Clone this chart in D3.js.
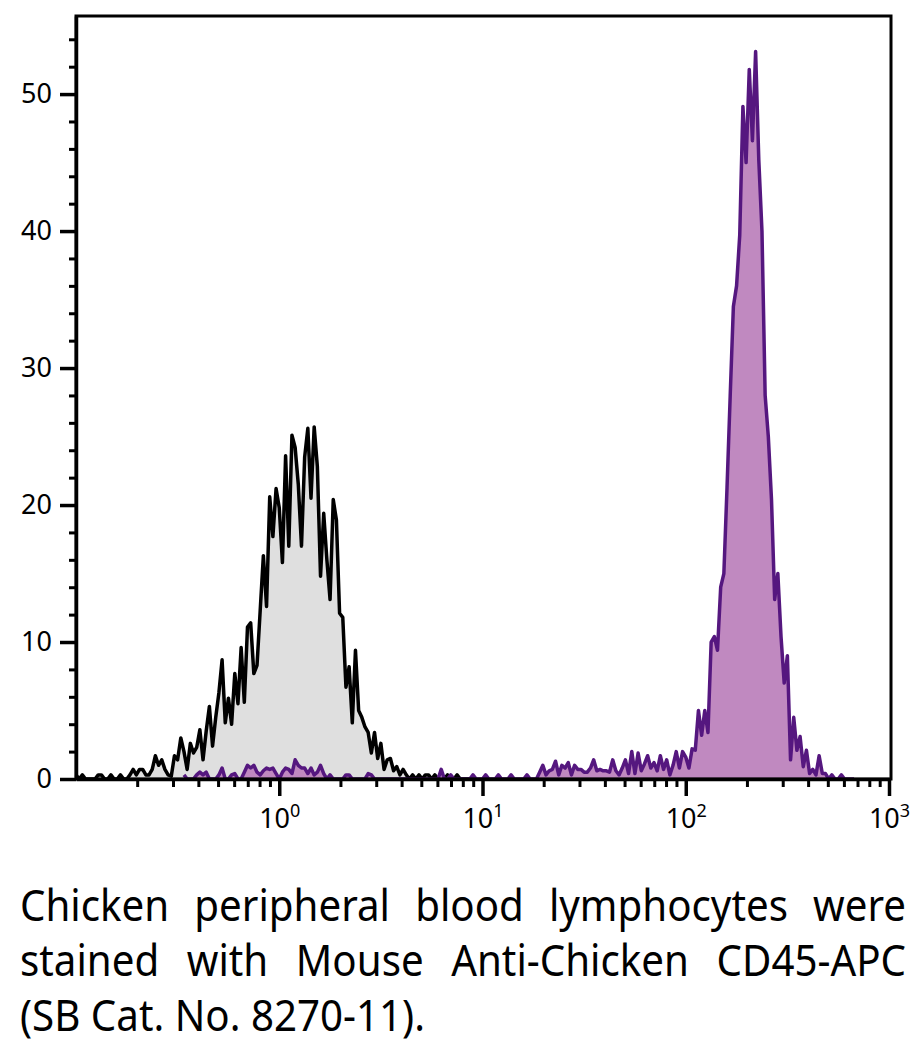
<!DOCTYPE html>
<html lang="en">
<head>
    <meta charset="UTF-8">
    <title>CD45-APC histogram</title>
    <script src="https://d3js.org/d3.v7.min.js"></script>
    <style>
        body {margin: 0; background: white;}
        svg {display: block;}
        .axis path, .axis line {stroke: black;}
        .axis path {stroke-width: 3.5;}
        .major line {stroke-width: 3.5;}
        .minor line {stroke-width: 3;}
        .frame {fill: none; stroke: black; stroke-width: 3;}
        .tick-label {font-family: "Noto Sans", sans-serif; font-size: 27px; fill: black;}
        .caption {font-family: "Noto Sans", sans-serif; font-size: 43px; fill: black;}
    </style>
</head>
<body>
<script>
    const width = 918;
    const height = 1045;

    // histogram channels: 64 per decade, channel 0 = 10^-1
    const channelsPerDecade = 64;
    const firstDecade = -1;

    // unstained control (black outline, grey fill), from channel 0
    const controlStart = 0;
    const controlCounts = [
        0.3,0,0.3,0,0,0,0,0.3,0.3,0,
        0,0.3,0,0,0.3,0,0,0.3,0.7,0.3,
        0.7,0.7,0.3,0.3,0.7,1.7,1.0,1.4,0.7,0.3,
        0.2,1.7,1.4,3.0,2.0,0.7,2.6,1.9,2.3,3.6,
        1.4,3.5,5.3,2.4,4.5,6.3,8.7,4.1,5.9,4.0,
        7.7,5.5,9.6,5.6,11.1,11.4,7.7,8.3,12.3,16.3,
        12.6,20.6,17.7,21.2,19.8,15.8,23.6,17.0,25.1,24.2,
        21.5,17.0,23.5,25.6,20.5,25.7,22.8,14.8,19.4,16.0,
        13.1,20.4,18.9,12.1,11.8,6.7,8.2,4.1,9.4,5.0,
        4.5,3.8,3.4,1.9,3.4,1.5,2.6,0.7,1.4,1.5,
        0.6,0.9,0.3,0.7,0.3,0,0.3,0,0.3,0,
        0.3,0.3,0,0.3,0,0.3,0,0.3,0,0,
        0.3,0,0,0,0,0
    ];

    // CD45-APC stained cells (purple), from channel 34
    const stainedStart = 34;
    const stainedCounts = [
        0.3,0,0,0,0.3,0.5,0.3,0.5,0,0,
        0,0.3,0.8,0,0,0.3,0.4,0,0,0.5,
        1.0,0.8,1.0,0.5,0.3,0.6,0.8,0.7,0.8,0.4,
        0,0.5,0.8,0.7,0.4,1.4,1.0,0.8,0.8,0.4,
        0.8,0.3,0.5,1.0,0.4,0,0.3,0,0,0,
        0,0.3,0.3,0,0,0,0,0,0.4,0.3,
        0,0,0,0,0,0,0,0,0,0,
        0,0,0,0,0,0,0,0,0,0,
        0,0.7,0,0,0.3,0,0,0,0,0,
        0,0.3,0,0,0,0.3,0,0,0,0.3,
        0,0,0,0.3,0,0,0,0,0.3,0,
        0,0,0.5,1.0,0.3,0.6,0.7,1.3,0.3,1.0,
        0.8,1.2,0.3,1.0,0.7,0.7,0.5,0.5,0.8,1.4,
        0.6,0.7,0.6,0.6,0.5,1.4,0.6,0.3,0.8,1.4,
        0.4,2.0,0.4,1.9,0.6,1.1,1.7,0.8,1.2,0.6,
        1.7,0.7,1.4,0.3,1.0,2.0,0.8,2.0,1.6,0.8,
        2.2,2.1,5.0,3.2,5.0,3.4,10.0,10.4,9.4,14.0,
        15.0,21.3,28.0,34.5,36.0,39.7,49.1,45.0,51.8,46.6,
        53.1,45.2,40.0,28.0,25.0,20.4,13.1,15.0,10.4,7.0,
        9.0,1.4,4.5,2.1,3.1,0.9,2.1,0.4,0.7,0.3,
        1.7,0.4,0.4,0,0.3,0,0,0.3,0,0,
        0,0
    ];

    const yMajor = [0, 10, 20, 30, 40, 50];
    const yMinor = [2,4,6,8,12,14,16,18,22,24,26,28,32,34,36,38,42,44,46,48,52,54];
    const xDecades = [0, 1, 2, 3];
    const xMinorMultipliers = [2, 3, 4, 5, 6, 7, 8, 9];

    const captionLines = [
        "Chicken peripheral blood lymphocytes were",
        "stained with Mouse Anti-Chicken CD45-APC",
        "(SB Cat. No. 8270-11)."
    ];

    const margin = {left: 76, right: 889, top: 16, bottom: 779};

    const x = d3.scaleLog().domain([0.1, 1000]).range([margin.left, margin.right]);
    const y = d3.scaleLinear().domain([0, 55.7]).range([margin.bottom, margin.top]);

    const svg = d3.select("body").append("svg")
            .attr("width", width).attr("height", height);

    function toPoints(start, counts) {
        return counts.map((c, i) => ({
            v: Math.pow(10, firstDecade + (start + i) / channelsPerDecade),
            c: c
        }));
    }

    const control = toPoints(controlStart, controlCounts);
    const stained = toPoints(stainedStart, stainedCounts);

    const area = d3.area().x(d => x(d.v)).y0(y(0)).y1(d => y(d.c));
    const line = d3.line().x(d => x(d.v)).y(d => y(d.c));

    // control histogram
    svg.append("path").datum(control)
            .attr("fill", "#dfdfdf")
            .attr("d", area);
    svg.append("path").datum(control)
            .attr("fill", "none").attr("stroke", "black")
            .attr("stroke-width", 3.5).attr("stroke-linejoin", "round")
            .attr("d", line);

    // stained histogram
    svg.append("path").datum(stained)
            .attr("fill", "#c089c0")
            .attr("d", area);
    svg.append("path").datum(stained)
            .attr("fill", "none").attr("stroke", "#55177f")
            .attr("stroke-width", 3.5).attr("stroke-linejoin", "round")
            .attr("d", line);

    // frame
    svg.append("rect").attr("class", "frame")
            .attr("x", margin.left).attr("y", margin.top)
            .attr("width", 891 - margin.left).attr("height", margin.bottom - margin.top);

    // y axis
    svg.append("g").attr("class", "axis minor")
            .attr("transform", `translate(${margin.left},0)`)
            .call(d3.axisLeft(y).tickValues(yMinor).tickSize(7).tickFormat(""))
            .select(".domain").remove();
    const yAxis = svg.append("g").attr("class", "axis major")
            .attr("transform", `translate(${margin.left},0)`)
            .call(d3.axisLeft(y).tickValues(yMajor).tickSize(16).tickSizeOuter(0).tickPadding(8));
    yAxis.selectAll("text").attr("class", "tick-label").attr("font-size", null).attr("font-family", null);
    yAxis.attr("font-size", null).attr("font-family", null);

    // x axis
    const minorVals = [];
    for (let k = -1; k < 3; k++) {
        xMinorMultipliers.forEach(m => minorVals.push(m * Math.pow(10, k)));
    }
    svg.append("g").attr("class", "axis minor")
            .attr("transform", `translate(0,${margin.bottom})`)
            .call(d3.axisBottom(x).tickValues(minorVals).tickSize(8).tickFormat(""))
            .select(".domain").remove();
    const xAxis = svg.append("g").attr("class", "axis major")
            .attr("transform", `translate(0,${margin.bottom})`)
            .call(d3.axisBottom(x).tickValues(xDecades.map(d => Math.pow(10, d)))
                    .tickSize(17).tickSizeOuter(0).tickFormat(""));
    xAxis.selectAll(".tick").each(function(d) {
        const t = d3.select(this).append("text")
                .attr("class", "tick-label")
                .attr("text-anchor", "middle")
                .attr("y", 49);
        t.append("tspan").text("10");
        t.append("tspan").attr("dy", -11).attr("font-size", 18)
                .text(Math.round(Math.log10(d)));
    });

    // caption, justified like the source
    const capLeft = 20, capRight = 906;
    const baselines = [921, 976, 1031];
    const last = svg.append("text").attr("class", "caption")
            .attr("x", capLeft).attr("y", baselines[2])
            .text(captionLines[2]);
    const natural = last.node().getComputedTextLength();
    const squeeze = 405 / natural;
    last.attr("textLength", 405).attr("lengthAdjust", "spacingAndGlyphs");

    captionLines.slice(0, 2).forEach((txt, li) => {
        const words = txt.split(" ");
        const nodes = words.map(w => svg.append("text").attr("class", "caption")
                .attr("y", baselines[li]).text(w));
        const widths = nodes.map(n => n.node().getComputedTextLength() * squeeze);
        const gap = (capRight - capLeft - d3.sum(widths)) / (words.length - 1);
        let cx = capLeft;
        nodes.forEach((n, i) => {
            n.attr("x", cx).attr("textLength", widths[i]).attr("lengthAdjust", "spacingAndGlyphs");
            cx += widths[i] + gap;
        });
    });
</script>
</body>
</html>
